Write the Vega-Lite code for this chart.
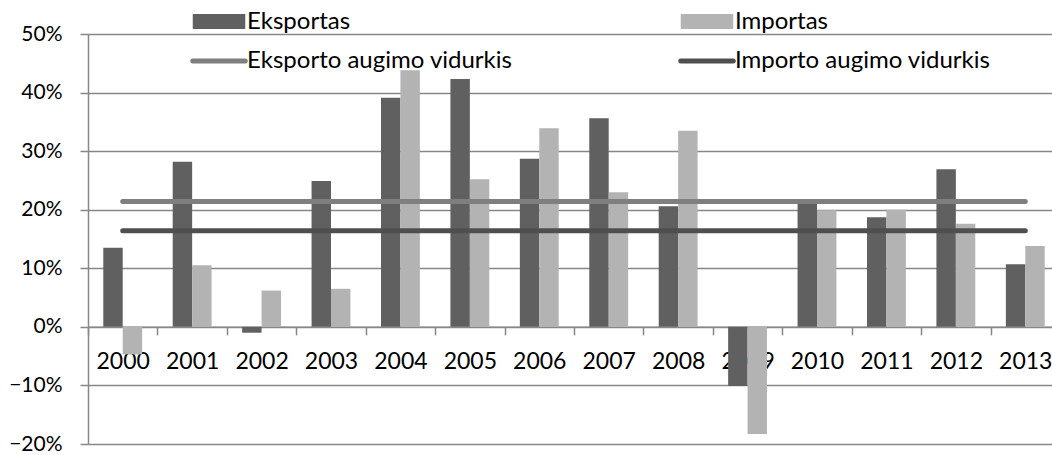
{
  "$schema": "https://vega.github.io/schema/vega-lite/v6.json",
  "width": 964,
  "height": 410,
  "autosize": "none",
  "padding": {"left": 88, "top": 34, "right": 0, "bottom": 11},
  "background": "white",
  "config": {
    "view": {"stroke": null},
    "font": "Lato",
    "axis": {"labelFont": "Lato", "labelColor": "#000000"},
    "legend": {"labelFont": "Lato", "labelColor": "#000000"}
  },
  "datasets": {
    "bars": [
      {"year": "2000", "series": "Eksportas", "value": 0.135},
      {"year": "2000", "series": "Importas", "value": -0.047},
      {"year": "2001", "series": "Eksportas", "value": 0.282},
      {"year": "2001", "series": "Importas", "value": 0.105},
      {"year": "2002", "series": "Eksportas", "value": -0.010},
      {"year": "2002", "series": "Importas", "value": 0.062},
      {"year": "2003", "series": "Eksportas", "value": 0.249},
      {"year": "2003", "series": "Importas", "value": 0.065},
      {"year": "2004", "series": "Eksportas", "value": 0.391},
      {"year": "2004", "series": "Importas", "value": 0.438},
      {"year": "2005", "series": "Eksportas", "value": 0.423},
      {"year": "2005", "series": "Importas", "value": 0.252},
      {"year": "2006", "series": "Eksportas", "value": 0.287},
      {"year": "2006", "series": "Importas", "value": 0.339},
      {"year": "2007", "series": "Eksportas", "value": 0.356},
      {"year": "2007", "series": "Importas", "value": 0.230},
      {"year": "2008", "series": "Eksportas", "value": 0.206},
      {"year": "2008", "series": "Importas", "value": 0.335},
      {"year": "2009", "series": "Eksportas", "value": -0.101},
      {"year": "2009", "series": "Importas", "value": -0.183},
      {"year": "2010", "series": "Eksportas", "value": 0.211},
      {"year": "2010", "series": "Importas", "value": 0.199},
      {"year": "2011", "series": "Eksportas", "value": 0.187},
      {"year": "2011", "series": "Importas", "value": 0.200},
      {"year": "2012", "series": "Eksportas", "value": 0.269},
      {"year": "2012", "series": "Importas", "value": 0.176},
      {"year": "2013", "series": "Eksportas", "value": 0.107},
      {"year": "2013", "series": "Importas", "value": 0.138}
    ],
    "avgs": [
      {"series": "Eksporto augimo vidurkis", "start": "2000", "end": "2013", "value": 0.214},
      {"series": "Importo augimo vidurkis", "start": "2000", "end": "2013", "value": 0.164}
    ]
  },
  "layer": [
    {
      "data": {"name": "bars"},
      "mark": {"type": "bar"},
      "encoding": {
        "x": {
          "field": "year",
          "type": "nominal",
          "scale": {"paddingInner": 0, "paddingOuter": 0, "range": [0, 972]},
          "axis": {
            "title": null,
            "offset": -117.14,
            "grid": false,
            "domainColor": "#878787",
            "domainWidth": 1.5,
            "tickColor": "#878787",
            "tickWidth": 1.5,
            "tickSize": 8,
            "tickBand": "extent",
            "labelFontSize": 23,
            "labelPadding": 16,
            "labelAngle": 0
          }
        },
        "xOffset": {
          "field": "series",
          "type": "nominal",
          "scale": {"domain": ["Eksportas", "Importas"], "paddingInner": 0, "paddingOuter": 0.786}
        },
        "y": {
          "field": "value",
          "type": "quantitative",
          "scale": {"domain": [-0.2, 0.5], "nice": false, "zero": false},
          "axis": {
            "title": null,
            "values": [-0.2, -0.1, 0, 0.1, 0.2, 0.3, 0.4, 0.5],
            "format": ".0%",
            "grid": true,
            "gridColor": "#878787",
            "gridWidth": 1.5,
            "domainColor": "#878787",
            "domainWidth": 1.5,
            "tickColor": "#878787",
            "tickWidth": 1.5,
            "tickSize": 8,
            "labelFontSize": 21,
            "labelPadding": 18
          }
        },
        "color": {
          "field": "series",
          "type": "nominal",
          "scale": {
            "domain": ["Eksportas", "Importas", "Eksporto augimo vidurkis", "Importo augimo vidurkis"],
            "range": ["#606060", "#b3b3b3", "#7f7f7f", "#4f4f4f"]
          },
          "legend": {
            "title": null,
            "orient": "none",
            "direction": "horizontal",
            "legendX": 119,
            "legendY": -24.5,
            "columns": 2,
            "padding": 0,
            "symbolSize": 225,
            "labelFontSize": 24,
            "labelOffset": 16,
            "labelLimit": 500,
            "columnPadding": 157,
            "rowPadding": 15.5,
            "labelBaseline": "middle",
            "encode": {
              "symbols": {
                "update": {
                  "shape": {"signal": "(datum.value === 'Eksportas' || datum.value === 'Importas') ? 'M-3.5,-1H3.5V1H-3.5Z' : 'M-3.5,0H3.5'"},
                  "fill": {"scale": "color", "field": "value"},
                  "stroke": {"scale": "color", "field": "value"},
                  "fillOpacity": {"signal": "(datum.value === 'Eksportas' || datum.value === 'Importas') ? 1 : 0"},
                  "strokeOpacity": {"signal": "(datum.value === 'Eksportas' || datum.value === 'Importas') ? 0 : 1"},
                  "strokeWidth": {"value": 5},
                  "strokeCap": {"value": "round"},
                  "opacity": {"value": 1}
                }
              }
            }
          }
        }
      }
    },
    {
      "data": {"name": "avgs"},
      "mark": {"type": "rule", "strokeWidth": 5, "strokeCap": "round"},
      "encoding": {
        "x": {"field": "start", "type": "nominal"},
        "x2": {"field": "end"},
        "y": {"field": "value", "type": "quantitative"},
        "color": {"field": "series", "type": "nominal"}
      }
    }
  ]
}
